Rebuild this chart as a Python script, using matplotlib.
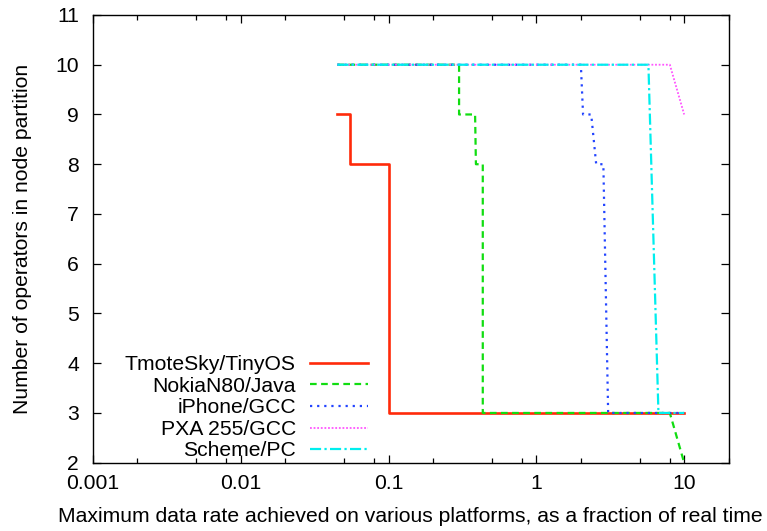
import matplotlib
matplotlib.use("Agg")
import matplotlib.pyplot as plt
from matplotlib.ticker import FixedLocator, LogLocator, NullFormatter

plt.rcParams["font.family"] = ["Liberation Sans", "DejaVu Sans"]

# data
tmote_x = [0.045, 0.055, 0.055, 0.1, 0.1, 10]
tmote_y = [9, 9, 8, 8, 3, 3]

nokia_x = [0.045, 0.30, 0.30, 0.385, 0.39, 0.434, 0.434, 8.0, 10]
nokia_y = [10, 10, 9, 9, 8, 8, 3, 3, 2]

iphone_x = [0.045, 2.0, 2.07, 2.35, 2.54, 2.84, 3.06, 10]
iphone_y = [10, 10, 9, 9, 8, 8, 3, 3]

pxa_x = [0.045, 8.0, 10]
pxa_y = [10, 10, 9]

scheme_x = [0.045, 5.73, 6.7, 10]
scheme_y = [10, 10, 3, 3]

x_ticks = [0.001, 0.01, 0.1, 1, 10]
x_tick_labels = ["0.001", "0.01", "0.1", "1", "10"]
y_ticks = [2, 3, 4, 5, 6, 7, 8, 9, 10, 11]

fs = 15.2

fig = plt.figure(figsize=(7.67, 5.31), dpi=100)
ax = fig.add_axes([0.1212, 0.1286, 0.8288, 0.8432])

ax.plot(tmote_x, tmote_y, color="#ff2a0a", lw=1.9, label="TmoteSky/TinyOS")
ax.plot(nokia_x, nokia_y, color="#11dd11", lw=1.6, dashes=(3, 2),
        label="NokiaN80/Java")
ax.plot(iphone_x, iphone_y, color="#2244ff", lw=1.6, dashes=(1, 2.2),
        label="iPhone/GCC")
ax.plot(pxa_x, pxa_y, color="#ff55ff", lw=1.3, dashes=(1, 1),
        label="PXA 255/GCC")
ax.plot(scheme_x, scheme_y, color="#00eeee", lw=1.6, dashes=(5, 1.5, 1, 1.5),
        label="Scheme/PC")

ax.set_xscale("log")
ax.set_xlim(0.001, 20)
ax.set_ylim(2, 11)

ax.xaxis.set_major_locator(FixedLocator(x_ticks))
ax.set_xticklabels(x_tick_labels)
ax.xaxis.set_minor_locator(LogLocator(base=10, subs=[2, 5, 8]))
ax.xaxis.set_minor_formatter(NullFormatter())
ax.set_yticks(y_ticks)

ax.tick_params(which="both", direction="in", top=True, right=True,
               labelsize=fs, width=0.9)
ax.tick_params(which="major", length=6)
ax.tick_params(which="minor", length=3.5)
ax.tick_params(axis="y", pad=10)
ax.tick_params(axis="x", pad=8)

for spine in ax.spines.values():
    spine.set_linewidth(1.0)

ax.set_xlabel("Maximum data rate achieved on various platforms, as a fraction of real time",
              fontsize=fs, labelpad=10)
ax.set_ylabel("Number of operators in node partition", fontsize=fs, labelpad=17)

ax.legend(loc="lower right", bbox_to_anchor=(0.4326, 0.005), frameon=False,
          markerfirst=False, fontsize=fs, handlelength=2.75, handletextpad=0.66,
          labelspacing=0.12, borderpad=0, borderaxespad=0)

fig.savefig("out.png", dpi=100)
